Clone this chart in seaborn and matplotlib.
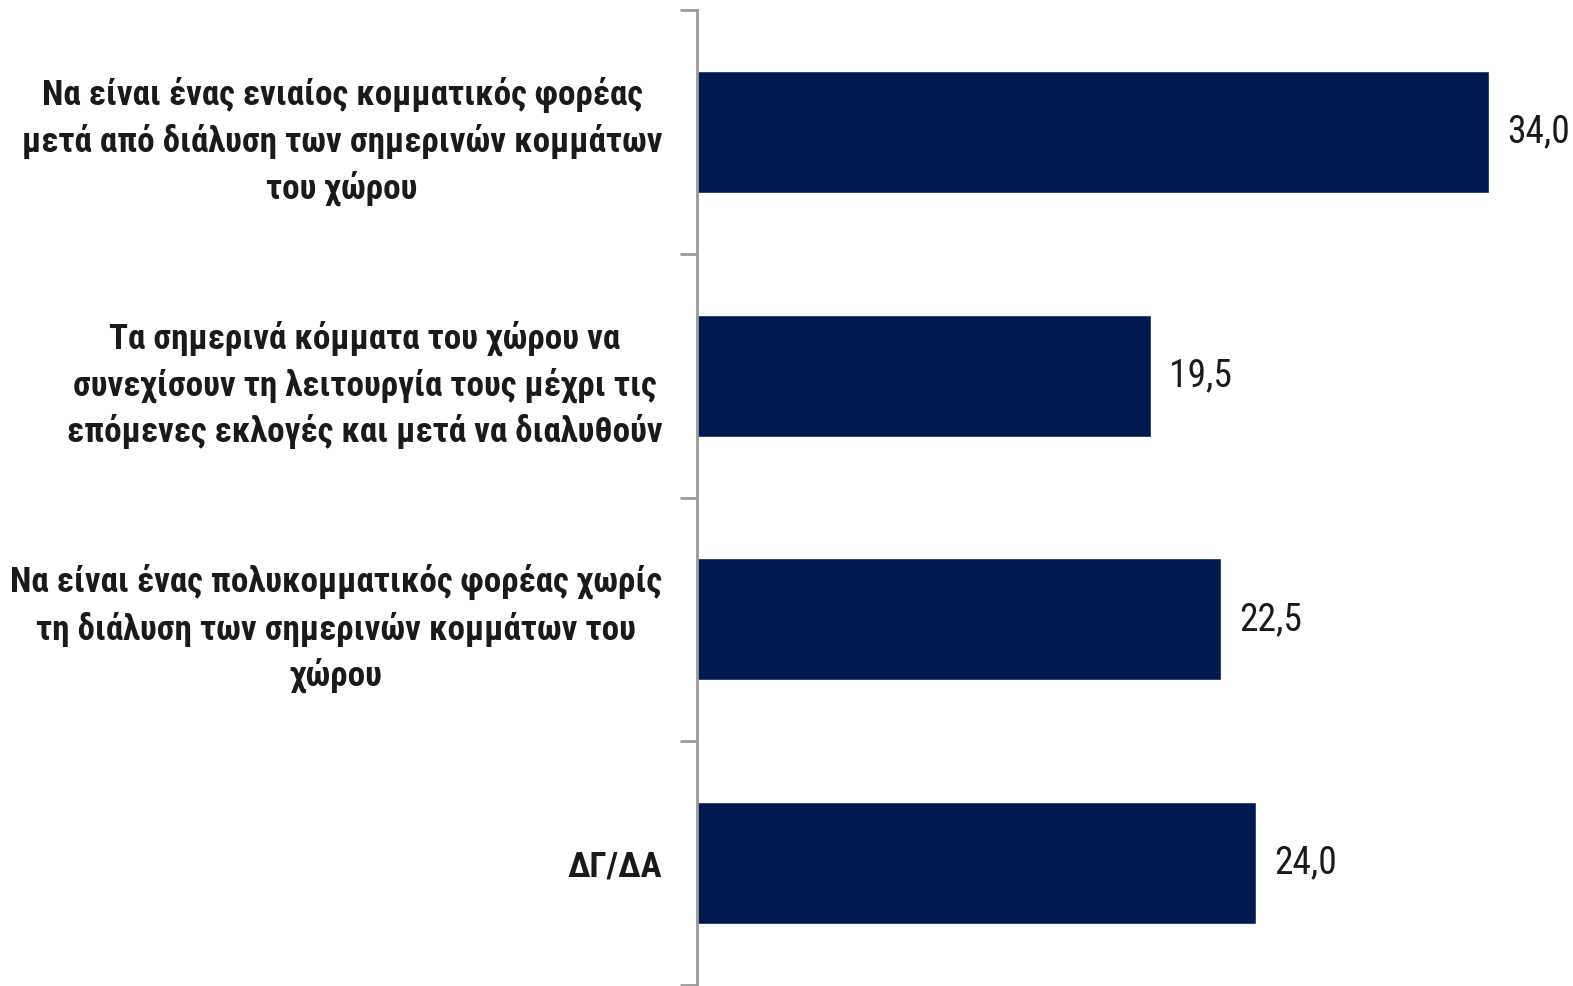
import matplotlib
matplotlib.use("Agg")
import matplotlib.pyplot as plt
import seaborn as sns
import pandas as pd
from matplotlib.ticker import FixedLocator

categories = [
    "Να είναι ένας ενιαίος κομματικός φορέας\nμετά από διάλυση των σημερινών κομμάτων\nτου χώρου",
    "Τα σημερινά κόμματα του χώρου να\nσυνεχίσουν τη λειτουργία τους μέχρι τις\nεπόμενες εκλογές και μετά να διαλυθούν",
    "Να είναι ένας πολυκομματικός φορέας χωρίς\nτη διάλυση των σημερινών κομμάτων του\nχώρου",
    "ΔΓ/ΔΑ",
]
values = [34.0, 19.5, 22.5, 24.0]

sns.set_style("white")
plt.rcParams["font.family"] = ["Roboto Condensed", "Roboto", "DejaVu Sans"]

df = pd.DataFrame({"label": categories, "value": values})

fig = plt.figure(figsize=(15.73, 9.86), dpi=100)
ax = fig.add_axes([697 / 1573, 1 / 986, 1 - 697 / 1573, 975 / 986])

sns.barplot(data=df, x="value", y="label", orient="h", color="#00194f",
            width=0.5, saturation=1, ax=ax)

ax.set_xlim(0, 37.6)
ax.set_ylim(3.5, -0.5)
ax.set_xlabel("")
ax.set_ylabel("")
ax.set_xticks([])

for s in ["top", "right", "bottom"]:
    ax.spines[s].set_visible(False)
ax.spines["left"].set_color("#999999")
ax.spines["left"].set_linewidth(2)

ax.tick_params(axis="y", which="major", length=0, pad=25)
ax.yaxis.set_minor_locator(FixedLocator([-0.5, 0.5, 1.5, 2.5, 3.5]))
ax.tick_params(axis="y", which="minor", length=12, width=2, color="#999999", left=True)

for lbl in ax.get_yticklabels():
    lbl.set_fontsize(25.2)
    lbl.set_fontweight("bold")
    lbl.set_color("#1a1a1a")
    lbl.set_multialignment("center")
    lbl.set_linespacing(1.4)

ax.bar_label(ax.containers[0], labels=[f"{v:.1f}".replace(".", ",") for v in values],
             padding=13, fontsize=27, color="#1a1a1a")

fig.savefig("out.png", dpi=100)
